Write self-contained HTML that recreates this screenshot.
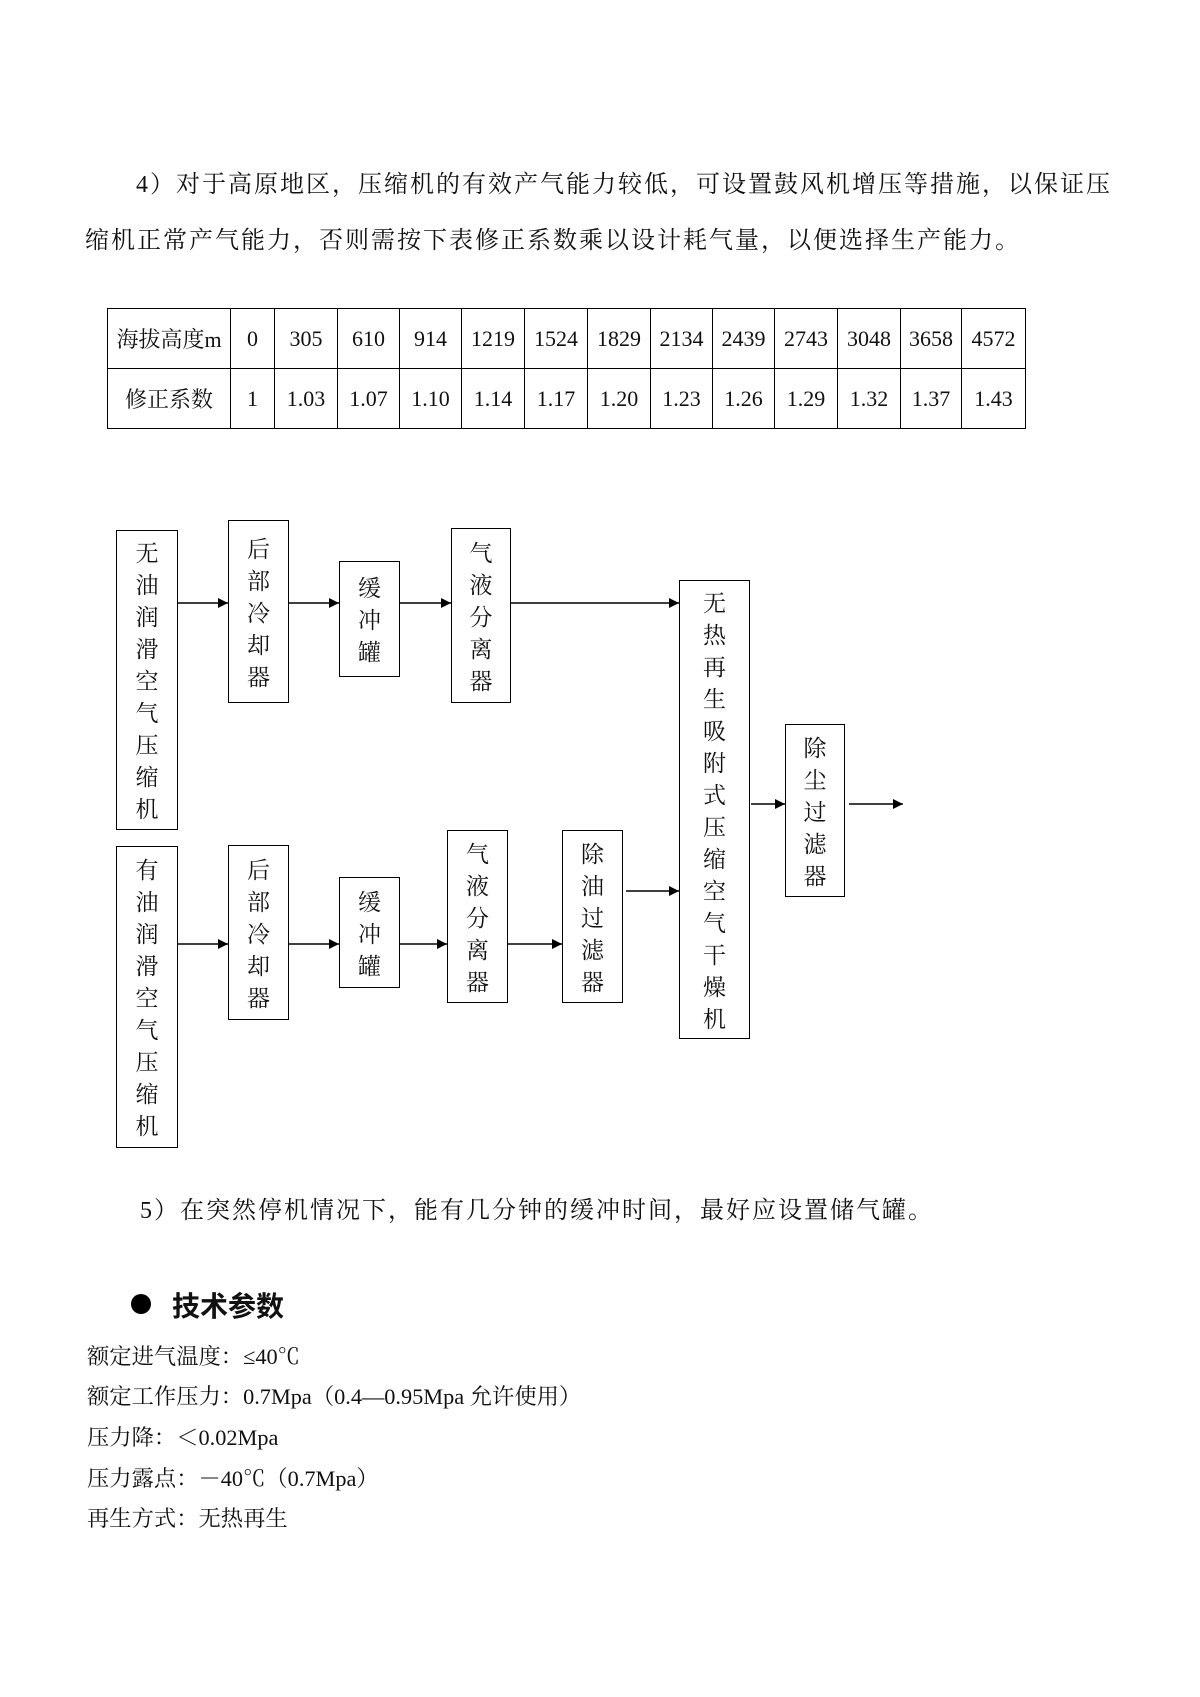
<!DOCTYPE html>
<html><head><meta charset="utf-8"><style>
body{margin:0;width:1200px;height:1697px;background:#fff;position:relative;font-family:"Liberation Serif","Noto Serif CJK SC",serif;color:#111;overflow:hidden}
.t{position:absolute;white-space:nowrap}
.p{font-size:24px;letter-spacing:2px}
table{position:absolute;left:107px;top:308px;border-collapse:collapse;font-size:22px}
td{border:1.5px solid #000;text-align:center;padding:0;height:59px}
.b{position:absolute;border:1.5px solid #000;box-sizing:border-box;display:flex;flex-direction:column;justify-content:center;align-items:center;font-size:23px;line-height:32px;font-family:"Noto Serif CJK SC",serif}
.b span{display:block}
svg{position:absolute;left:0;top:0}
#dg{position:absolute;left:0;top:0;width:1200px;height:1697px;transform:translate(-2px,-4px)}
.q{font-size:22.3px}
</style></head><body>
<div class="t p" style="left:136px;top:164px">4）对于高原地区，压缩机的有效产气能力较低，可设置鼓风机增压等措施，以保证压</div>
<div class="t p" style="left:85px;top:220px">缩机正常产气能力，否则需按下表修正系数乘以设计耗气量，以便选择生产能力。</div>
<table>
<tr><td style="width:122px">海拔高度m</td><td style="width:43px">0</td><td style="width:62px">305</td><td style="width:61px">610</td><td style="width:61px">914</td><td style="width:62px">1219</td><td style="width:62px">1524</td><td style="width:62px">1829</td><td style="width:61px">2134</td><td style="width:61px">2439</td><td style="width:62px">2743</td><td style="width:62px">3048</td><td style="width:60px">3658</td><td style="width:63px">4572</td></tr>
<tr><td>修正系数</td><td>1</td><td>1.03</td><td>1.07</td><td>1.10</td><td>1.14</td><td>1.17</td><td>1.20</td><td>1.23</td><td>1.26</td><td>1.29</td><td>1.32</td><td>1.37</td><td>1.43</td></tr>
</table>

<div id="dg">
<div class="b" style="left:118px;top:534px;width:62px;height:300px"><span>无</span><span>油</span><span>润</span><span>滑</span><span>空</span><span>气</span><span>压</span><span>缩</span><span>机</span></div>
<div class="b" style="left:230px;top:524px;width:61px;height:183px"><span>后</span><span>部</span><span>冷</span><span>却</span><span>器</span></div>
<div class="b" style="left:341px;top:565px;width:61px;height:116px"><span>缓</span><span>冲</span><span>罐</span></div>
<div class="b" style="left:453px;top:532px;width:60px;height:175px"><span>气</span><span>液</span><span>分</span><span>离</span><span>器</span></div>
<div class="b" style="left:681px;top:584px;width:71px;height:459px"><span>无</span><span>热</span><span>再</span><span>生</span><span>吸</span><span>附</span><span>式</span><span>压</span><span>缩</span><span>空</span><span>气</span><span>干</span><span>燥</span><span>机</span></div>
<div class="b" style="left:787px;top:728px;width:60px;height:173px"><span>除</span><span>尘</span><span>过</span><span>滤</span><span>器</span></div>
<div class="b" style="left:118px;top:850px;width:62px;height:302px"><span>有</span><span>油</span><span>润</span><span>滑</span><span>空</span><span>气</span><span>压</span><span>缩</span><span>机</span></div>
<div class="b" style="left:230px;top:849px;width:61px;height:175px"><span>后</span><span>部</span><span>冷</span><span>却</span><span>器</span></div>
<div class="b" style="left:341px;top:881px;width:61px;height:111px"><span>缓</span><span>冲</span><span>罐</span></div>
<div class="b" style="left:449px;top:834px;width:61px;height:173px"><span>气</span><span>液</span><span>分</span><span>离</span><span>器</span></div>
<div class="b" style="left:564px;top:834px;width:61px;height:173px"><span>除</span><span>油</span><span>过</span><span>滤</span><span>器</span></div>

<svg width="1200" height="1697">
<defs><marker id="a" markerWidth="10" markerHeight="10" refX="10" refY="5" orient="auto" markerUnits="userSpaceOnUse"><path d="M0,0 L10,5 L0,10 z" fill="#000"/></marker></defs>
<g stroke="#000" stroke-width="1.5" marker-end="url(#a)">
<line x1="180" y1="607" x2="230" y2="607"/>
<line x1="291" y1="607" x2="341" y2="607"/>
<line x1="402" y1="607" x2="453" y2="607"/>
<line x1="513" y1="607" x2="681" y2="607"/>
<line x1="180" y1="948" x2="230" y2="948"/>
<line x1="291" y1="948" x2="341" y2="948"/>
<line x1="402" y1="948" x2="449" y2="948"/>
<line x1="510" y1="948" x2="564" y2="948"/>
<line x1="628" y1="895" x2="681" y2="895"/>
<line x1="753" y1="808" x2="787" y2="808"/>
<line x1="851" y1="808" x2="905" y2="808"/>
</g></svg>
</div>

<div class="t p" style="left:140px;top:1190px">5）在突然停机情况下，能有几分钟的缓冲时间，最好应设置储气罐。</div>
<div class="t" style="left:131px;top:1294px;width:20px;height:20px;border-radius:50%;background:#000"></div>
<div class="t" style="left:172px;top:1285px;font-size:28px;font-weight:bold;font-family:'Noto Sans CJK SC',sans-serif">技术参数</div>
<div class="t q" style="left:87px;top:1339px">额定进气温度：≤40℃</div>
<div class="t q" style="left:87px;top:1379px">额定工作压力：0.7Mpa（0.4—0.95Mpa 允许使用）</div>
<div class="t q" style="left:87px;top:1420px">压力降：＜0.02Mpa</div>
<div class="t q" style="left:87px;top:1461px">压力露点：－40℃（0.7Mpa）</div>
<div class="t q" style="left:87px;top:1501px">再生方式：无热再生</div>
</body></html>
